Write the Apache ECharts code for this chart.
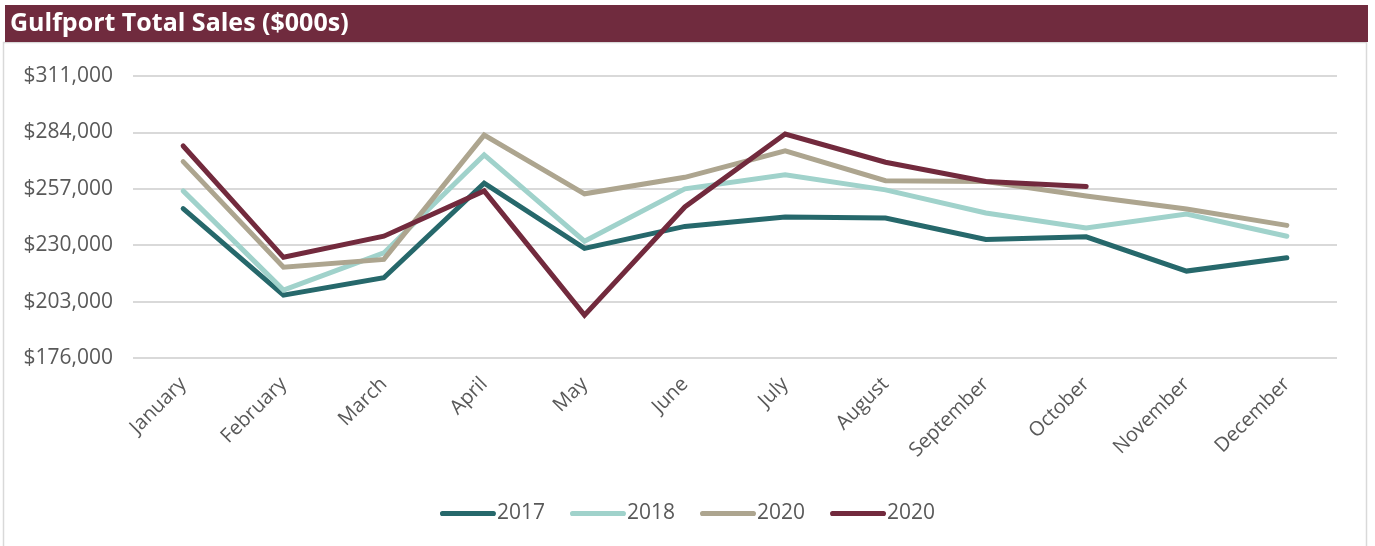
<!DOCTYPE html>
<html><head><meta charset="utf-8">
<script src="https://cdn.jsdelivr.net/npm/echarts@6/dist/echarts.min.js"></script>
<style>html,body{margin:0;padding:0;background:#fff}#c{width:1375px;height:546px}</style>
</head><body><div id="c"></div>
<script>
const categories = ['January','February','March','April','May','June','July','August','September','October','November','December'];
const sales2017 = [247500, 206100, 214400, 259700, 228500, 239000, 243500, 243000, 232700, 234000, 217600, 224000];
const sales2018 = [256000, 208500, 226300, 273200, 231900, 257000, 263700, 256500, 245400, 238300, 244900, 234300];
const sales2020a = [270000, 219500, 223200, 282700, 254600, 262500, 275200, 260900, 260500, 253600, 247300, 239500];
const sales2020b = [277500, 224200, 234300, 256000, 196500, 248300, 283200, 269700, 260500, 258100, null, null];
const yTicks = [176000, 203000, 230000, 257000, 284000, 311000];
const seriesNames = ['2017', '2018', '2020', '2020 '];
const colors = ['#26686B', '#A0D2CB', '#ADA58F', '#722A3D'];

const chart = echarts.init(document.getElementById('c'));
const font = '"Open Sans", sans-serif';
function mk(name, data, color, z) {
  return { name, type: 'line', data, showSymbol: false, symbol: 'none', z,
    lineStyle: { width: 5, color, cap: 'round', join: 'miter' }, itemStyle: { color },
    emphasis: { disabled: true }, connectNulls: false };
}
chart.setOption({
  animation: false,
  color: colors,
  graphic: [
    { type: 'rect', shape: { x: 3.5, y: 42.5, width: 1363, height: 510 }, style: { fill: 'none', stroke: '#D9D9D9', lineWidth: 1.5 }, z: 0 },
    { type: 'rect', shape: { x: 5, y: 5, width: 1363, height: 37 }, style: { fill: '#702B3E' }, z: 1 },
    { type: 'text', x: 10, y: 24, style: { text: 'Gulfport Total Sales ($000s)', fill: '#fff', font: 'bold 25px "Open Sans", sans-serif', verticalAlign: 'middle' }, z: 2 }
  ],
  grid: { left: 133, right: 38, top: 76, bottom: 188, containLabel: false },
  legend: {
    bottom: 17, left: 'center', itemWidth: 56, itemHeight: 12, itemGap: 25,
    textStyle: { fontFamily: font, fontSize: 21, color: '#595959', padding: [0, 0, 0, -4] },
    data: seriesNames.map(n => ({ name: n, icon: 'path://M3,3.5 L53,3.5 A2.5,2.5 0 0 1 53,8.5 L3,8.5 A2.5,2.5 0 0 1 3,3.5 Z' })),
    formatter: n => n.trim()
  },
  xAxis: {
    type: 'category', data: categories, boundaryGap: true,
    axisLine: { show: false }, axisTick: { show: false },
    axisLabel: { interval: 0, rotate: 45, fontFamily: font, fontSize: 20, color: '#595959', margin: 23 }
  },
  yAxis: {
    type: 'value', min: 176000, max: 311000, interval: 27000,
    axisLine: { show: false }, axisTick: { show: false, customValues: yTicks },
    splitLine: { lineStyle: { color: '#D9D9D9', width: 2 } },
    axisLabel: { customValues: yTicks, fontFamily: font, fontSize: 21, color: '#595959', margin: 20,
      formatter: v => '$' + v.toLocaleString('en-US') }
  },
  series: [
    mk(seriesNames[0], sales2017, colors[0], 2),
    mk(seriesNames[1], sales2018, colors[1], 3),
    mk(seriesNames[2], sales2020a, colors[2], 4),
    mk(seriesNames[3], sales2020b, colors[3], 5)
  ]
});
</script></body></html>
